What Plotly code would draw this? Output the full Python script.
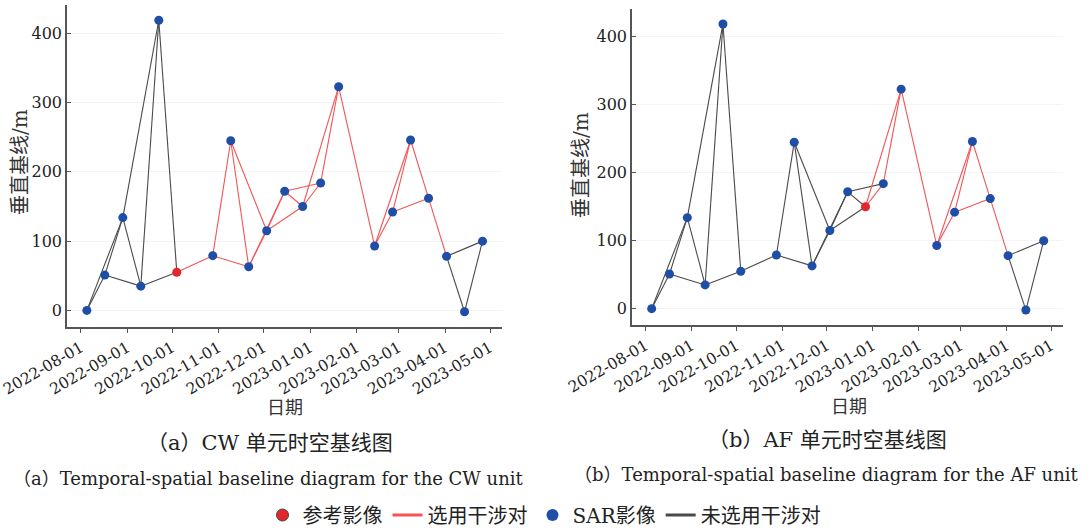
import plotly.graph_objects as go

# ---------------- data ----------------
dates = ["2022-08-05", "2022-08-17", "2022-08-29", "2022-09-10", "2022-09-22",
         "2022-10-04", "2022-10-28", "2022-11-09", "2022-11-21", "2022-12-03",
         "2022-12-15", "2022-12-27", "2023-01-08", "2023-01-20", "2023-02-13",
         "2023-02-25", "2023-03-09", "2023-03-21", "2023-04-02", "2023-04-14",
         "2023-04-26"]
baseline = [0, 51, 134, 35, 419, 55, 79, 245, 63, 115, 172, 150, 184, 323,
            93, 142, 246, 162, 78, -2, 100]

pairs = [(0, 1), (0, 2), (1, 2), (1, 3), (2, 3), (2, 4), (3, 4), (3, 5), (4, 5),
         (5, 6), (6, 7), (6, 8), (7, 8), (7, 9), (8, 9), (8, 10), (9, 10), (9, 11),
         (10, 11), (10, 12), (11, 12), (11, 13), (12, 13), (13, 14), (14, 15),
         (14, 16), (15, 16), (15, 17), (16, 17), (17, 18), (18, 19), (18, 20),
         (19, 20)]

cw_selected = pairs[9:30]
af_selected = pairs[20:30]
cw_reference = 5
af_reference = 11

x_ticks = ["2022-08-01", "2022-09-01", "2022-10-01", "2022-11-01", "2022-12-01",
           "2023-01-01", "2023-02-01", "2023-03-01", "2023-04-01", "2023-05-01"]
y_ticks = [0, 100, 200, 300, 400]

cap_cn = ["（a）CW 单元时空基线图", "（b）AF 单元时空基线图"]
cap_en = ["（a）Temporal-spatial baseline diagram for the CW unit",
          "（b）Temporal-spatial baseline diagram for the AF unit"]
legend_names = ["参考影像", "选用干涉对", "SAR影像", "未选用干涉对"]
y_title = "垂直基线/m"
x_title = "日期"

# ---------------- style ----------------
W, H = 1089, 530
RED_PT = "#e3262b"
BLUE_PT = "#1f4ea6"
RED_LN = "#f25555"
BLK_LN = "#4a4a4a"
SERIF = "DejaVu Serif"
CJK = "DejaVu Serif, Noto Sans CJK SC"

panels = [
    dict(xd=[67 / W, 502 / W], yd=[1 - 327 / H, 1 - 5 / H],
         sel=cw_selected, ref=cw_reference),
    dict(xd=[632 / W, 1063 / W], yd=[1 - 325 / H, 1 - 9 / H],
         sel=af_selected, ref=af_reference),
]

fig = go.Figure()


def seg_xy(edge_list):
    xs, ys = [], []
    for i, j in edge_list:
        xs += [dates[i], dates[j], None]
        ys += [baseline[i], baseline[j], None]
    return xs, ys


for k, p in enumerate(panels):
    xa = "x" if k == 0 else "x2"
    ya = "y" if k == 0 else "y2"
    sel = set(p["sel"])
    unsel = [e for e in pairs if e not in sel]
    xs, ys = seg_xy(unsel)
    fig.add_trace(go.Scatter(x=xs, y=ys, mode="lines", xaxis=xa, yaxis=ya,
                             line=dict(color=BLK_LN, width=1.1),
                             name=legend_names[3], showlegend=False, hoverinfo="skip"))
    xs, ys = seg_xy(p["sel"])
    fig.add_trace(go.Scatter(x=xs, y=ys, mode="lines", xaxis=xa, yaxis=ya,
                             line=dict(color=RED_LN, width=1.1),
                             name=legend_names[1], showlegend=False, hoverinfo="skip"))
    idx = [i for i in range(len(dates)) if i != p["ref"]]
    fig.add_trace(go.Scatter(x=[dates[i] for i in idx], y=[baseline[i] for i in idx],
                             mode="markers", xaxis=xa, yaxis=ya,
                             marker=dict(color=BLUE_PT, size=9),
                             name=legend_names[2], showlegend=False))
    fig.add_trace(go.Scatter(x=[dates[p["ref"]]], y=[baseline[p["ref"]]],
                             mode="markers", xaxis=xa, yaxis=ya,
                             marker=dict(color=RED_PT, size=9),
                             name=legend_names[0], showlegend=False))

# legend-only entries (order as in reference)
fig.add_trace(go.Scatter(x=[None], y=[None], mode="markers", name=legend_names[0],
                         marker=dict(color=RED_PT, size=12, line=dict(color="#444", width=1))))
fig.add_trace(go.Scatter(x=[None], y=[None], mode="lines", name=legend_names[1],
                         line=dict(color=RED_LN, width=3)))
fig.add_trace(go.Scatter(x=[None], y=[None], mode="markers", name=legend_names[2],
                         marker=dict(color=BLUE_PT, size=12)))
fig.add_trace(go.Scatter(x=[None], y=[None], mode="lines", name=legend_names[3],
                         line=dict(color=BLK_LN, width=3)))

axis_common_x = dict(
    type="date", range=["2022-07-22 18:00", "2023-05-09"],
    tickvals=x_ticks, ticktext=x_ticks, tickangle=-30,
    showline=True, linecolor="#555", linewidth=1.5, mirror=False,
    ticks="outside", ticklen=4, tickcolor="#555", tickwidth=1.2,
    showgrid=False, zeroline=False, automargin=False,
    tickfont=dict(family=SERIF, size=15.5, color="#222"),
)
axis_common_y = dict(
    range=[-24, 441], tickvals=y_ticks,
    showline=True, linecolor="#555", linewidth=1.5, mirror=False,
    ticks="inside", ticklen=4, tickcolor="#555", tickwidth=1.2,
    showgrid=True, gridcolor="rgba(0,0,0,0.045)", gridwidth=1,
    zeroline=False, automargin=False,
    tickfont=dict(family=SERIF, size=16, color="#222"),
)

fig.update_layout(
    width=W, height=H, margin=dict(l=0, r=0, t=0, b=0, autoexpand=False),
    paper_bgcolor="white", plot_bgcolor="white",
    xaxis=dict(domain=panels[0]["xd"], anchor="y", **axis_common_x),
    yaxis=dict(domain=panels[0]["yd"], anchor="x", **axis_common_y),
    xaxis2=dict(domain=panels[1]["xd"], anchor="y2", **axis_common_x),
    yaxis2=dict(domain=panels[1]["yd"], anchor="x2", **axis_common_y),
    legend=dict(orientation="h", x=0.5, xanchor="center", y=1 - 515 / H,
                yanchor="middle", font=dict(family=CJK, size=20, color="#222"),
                itemwidth=30, tracegroupgap=0, bgcolor="rgba(0,0,0,0)"),
    showlegend=True,
)


def add_text(t, cx, cy, size, angle=0, color="#222"):
    return dict(text=t, x=cx / W, y=1 - cy / H, xref="paper", yref="paper",
                xanchor="center", yanchor="middle", showarrow=False,
                textangle=angle, font=dict(family=CJK, size=size, color=color))


ann = [
    add_text(y_title, 20, 162, 20, angle=-90, color="#333"),
    add_text(y_title, 581, 165, 20, angle=-90, color="#333"),
    add_text(x_title, 285, 407, 18, color="#333"),
    add_text(x_title, 849, 406, 18, color="#333"),
    add_text(cap_cn[0], 270, 443, 21),
    add_text(cap_cn[1], 827, 440, 21),
    add_text(cap_en[0], 268, 478, 18),
    add_text(cap_en[1], 826, 474, 18),
]
fig.update_layout(annotations=ann)

fig.write_html("out.html")
